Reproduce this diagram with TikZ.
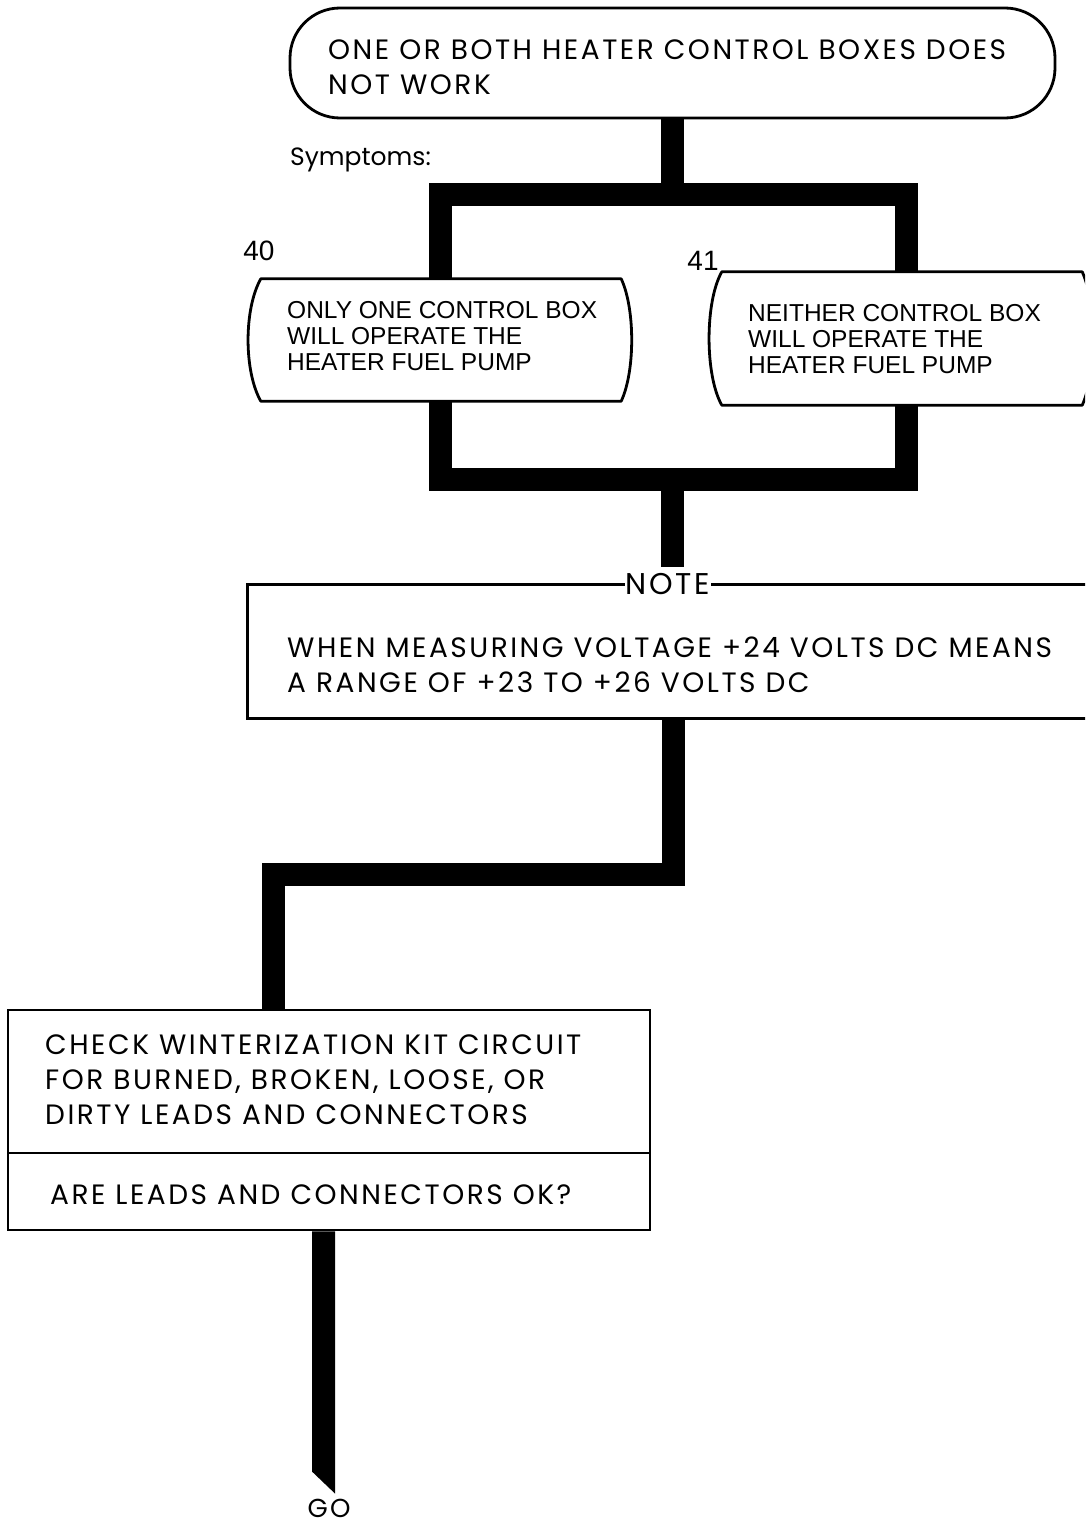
\documentclass[tikz,border=0pt]{standalone}
\usepackage{fontspec}
\setmainfont{Poppins}
\newfontfamily\helv{Liberation Sans}
\newfontfamily\fut[LetterSpace=9]{Poppins}
\newfontfamily\futplain{Poppins}
\usetikzlibrary{calc}
\begin{document}
\begin{tikzpicture}[x=1pt,y=-1pt,
  bus/.style={line width=23pt, line join=miter, line cap=butt},
  outline/.style={line width=2.8pt},
  ftxt/.style={font=\fontsize{28}{35}\selectfont\fut, align=left, inner sep=0pt},
  htxt/.style={font=\fontsize{24.5}{26}\selectfont\helv, align=left, inner sep=0pt},
  shapebox/.style={draw=none, inner sep=0pt}
]
\useasboundingbox (0,0) rectangle (1085,1528);
% exit label (outside the clip)
\node[font=\fontsize{26}{28}\selectfont\fut, inner sep=0pt] (go) at (329,1508) {GO};
\begin{scope}
\clip (0,0) rectangle (1085,1528);

% top terminal
\node[draw, outline, rounded corners=50pt, minimum width=765pt, minimum height=110pt, inner sep=0pt] (top) at (672.5,63) {};
\node[ftxt, anchor=west] (toptext) at (328,67) {ONE OR BOTH HEATER CONTROL BOXES DOES\\NOT WORK};

\node[font=\fontsize{25}{28}\selectfont\futplain, inner sep=0pt, anchor=west] (sym) at (290,160) {Symptoms:};

% symptom boxes
\node[shapebox, minimum width=384pt, minimum height=122pt] (n40) at (440,340) {};
\node[shapebox, minimum width=384pt, minimum height=133pt] (n41) at (901,338.5) {};
\foreach \b in {n40,n41}{
\draw[outline, line join=round]
  ($(\b.north west)+(13,0)$) -- ($(\b.north east)+(-11,0)$)
  .. controls ($(\b.north east)+(3,30)$) and ($(\b.south east)+(3,-30)$) .. ($(\b.south east)+(-11,0)$)
  -- ($(\b.south west)+(13,0)$)
  .. controls ($(\b.south west)+(-4,-30)$) and ($(\b.north west)+(-4,30)$) .. cycle;
}
\node[htxt, anchor=west] (t40) at (287,336) {ONLY ONE CONTROL BOX\\WILL OPERATE THE\\HEATER FUEL PUMP};
\node[htxt, anchor=west] (t41) at (748,339) {NEITHER CONTROL BOX\\WILL OPERATE THE\\HEATER FUEL PUMP};
\node[font=\fontsize{28}{30}\selectfont\helv, inner sep=0pt] (l40) at (259,251) {40};
\node[font=\fontsize{28}{30}\selectfont\helv, inner sep=0pt] (l41) at (703,261) {41};

% upper fork
\coordinate (bt) at (672.5,194);
\coordinate (r41) at (906,194);
\draw[bus] (top.south) -- (bt);
\draw[bus] (n40.north) -- (n40.north |- bt) -- (r41) -- (r41 |- n41.north);

% lower join
\coordinate (bb) at (672,479);
\coordinate (r41b) at (906,479);
\draw[bus] (n40.south) -- (n40.south |- bb) -- (r41b) -- (r41b |- n41.south);

% note
\node[shapebox, minimum width=850pt, minimum height=133pt] (note) at (673,651.5) {};
\node[font=\fontsize{30}{35}\selectfont\fut, inner sep=0pt, fill=white, inner xsep=1pt] (notelbl) at (668,584) {NOTE};
\draw[bus] (bb) -- ($(notelbl.north -| bb)+(0,-6)$);
\draw[outline] (notelbl.west |- note.north) -- (note.north west) -- (note.south west) -- (note.south east) -- (note.north east) -- (notelbl.east |- note.north);
\node[ftxt, anchor=west] (notetext) at (287,665) {WHEN MEASURING VOLTAGE +24 VOLTS DC MEANS\\A RANGE OF +23 TO +26 VOLTS DC};

% check boxes
\node[draw, outline, minimum width=642pt, minimum height=143pt, inner sep=0pt] (chk) at (329,1081.5) {};
\node[draw, outline, minimum width=642pt, minimum height=77pt, inner sep=0pt] (ask) at (329,1191.5) {};
\node[ftxt, anchor=west] (chktext) at (45,1080) {CHECK WINTERIZATION KIT CIRCUIT\\FOR BURNED, BROKEN, LOOSE, OR\\DIRTY LEADS AND CONNECTORS};
\node[ftxt, anchor=west] (asktext) at (50,1195) {ARE LEADS AND CONNECTORS OK?};

\coordinate (z1) at (673,874);
\coordinate (z2) at (273,874);
\draw[bus] (note.south -| z1) -- (z1) -- (z2) -- (chk.north -| z2);

% exit connector
\fill ($(ask.south)+(-17,0)$) -- ($(ask.south)+(6,0)$) -- ($(go.north)+(6,-5)$) -- ($(go.north)+(-17,-27)$) -- cycle;

\end{scope}
\end{tikzpicture}
\end{document}
